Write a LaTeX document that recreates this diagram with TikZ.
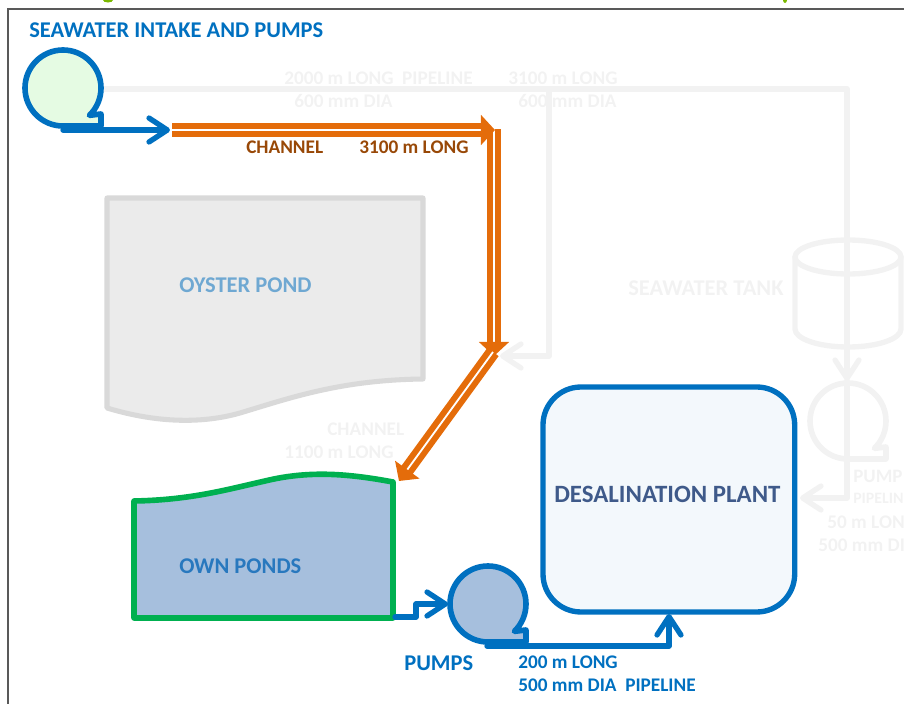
\documentclass[tikz,border=0pt]{standalone}
\usepackage{xcolor}
\usepackage{fontspec}
\setmainfont{Carlito}
\usetikzlibrary{arrows.meta}
\definecolor{pipeblue}{HTML}{0070C0}
\definecolor{chanorange}{HTML}{E46C0A}
\definecolor{chanbrown}{HTML}{984807}
\definecolor{ghost}{HTML}{F2F2F2}
\definecolor{pondgreen}{HTML}{00B050}
\definecolor{pondblue}{HTML}{A6BFDD}
\definecolor{pondtext}{HTML}{2878BE}
\definecolor{oystergrey}{HTML}{EBEBEB}
\definecolor{oysteredge}{HTML}{D9D9D9}
\definecolor{oystertext}{HTML}{6FA8D2}
\definecolor{plantfill}{HTML}{F3F8FC}
\definecolor{planttext}{HTML}{3F5A8A}
\definecolor{intakefill}{HTML}{E5FBE3}
\definecolor{titlegreen}{HTML}{7AB800}
\tikzset{
  lbl/.style={font=\bfseries\fontsize{13.7}{15}\selectfont,inner sep=0pt,anchor=west},
  biglbl/.style={lbl,font=\bfseries\fontsize{16}{18}\selectfont},
  bluepipe/.style={draw=pipeblue,line width=3.8pt,line join=round,line cap=round},
  ghostpipe/.style={draw=ghost,line width=3.8pt,line join=round,line cap=round},
  pipearrow/.style={-{Straight Barb[length=13pt,width=17pt,line width=3.8pt,round]}},
  channel/.style={draw=chanorange,line width=4.3pt,double=white,double distance=1.3pt,
    -{Triangle[length=10pt,width=21pt]}},
  pumpbody/.style={line width=4pt,line join=round}
}
\begin{document}
\begin{tikzpicture}[x=0.025cm,y=-0.025cm]
\useasboundingbox (0,0) rectangle (904,704);
\draw[color=black!65,line width=0.9pt] (8,704)--(8,9)--(904,9);
\fill[titlegreen] (108,0) ellipse (5 and 2.5);
\fill[titlegreen] (785,0) ellipse (2 and 3);

% faded parts
\coordinate (intakeOut) at (103,89);
\coordinate (pipeCorner) at (847,89);
\coordinate (branchTop) at (549,89);
\coordinate (branchLow) at (549,356);
\coordinate (branchEnd) at (500,356);
\coordinate (pumpTop) at (847,381);
\coordinate (pipeLow) at (847,498);
\coordinate (plantEnd) at (800,498);
\draw[ghostpipe] (intakeOut)--(pipeCorner);
\draw[ghostpipe,pipearrow] (pipeCorner)--(pumpTop);
\draw[ghostpipe] (branchTop)--(branchLow);
\draw[ghostpipe,pipearrow] (branchLow)--(branchEnd);
\draw[ghostpipe] (pumpTop)--(pipeLow);
\draw[ghostpipe,pipearrow] (pipeLow)--(plantEnd);
% tank
\draw[ghostpipe] (848,257) ellipse (53 and 17);
\draw[ghostpipe] (795,257)--(795,329) arc (180:0:53 and 18)--(901,257);
\draw[pumpbody,draw=ghost] (848,459) arc (90:406:38)--(886,447)--(886,459)--cycle;
\node[lbl,text=ghost] (lblA) at (284,78) {2000 m LONG\ \ PIPELINE};
\node[lbl,text=ghost] (lblB) at (294,101) {600 mm DIA};
\node[lbl,text=ghost] (lblC) at (508,78) {3100 m LONG};
\node[lbl,text=ghost] (lblD) at (518,101) {600 mm DIA};
\node[biglbl,text=ghost] (lblTank) at (628,288) {SEAWATER TANK};
\node[lbl,text=ghost] (lblE) at (327,429) {CHANNEL};
\node[lbl,text=ghost] (lblF) at (284,452) {1100 m LONG};
\node[lbl,text=ghost,font=\bfseries\fontsize{13.5}{15}\selectfont] (lblG) at (853,476) {PUMP};
\node[lbl,text=ghost,font=\bfseries\fontsize{11.3}{13}\selectfont] (lblH) at (853,498) {PIPELIN};
\node[lbl,text=ghost] (lblI) at (827,522) {50 m LON};
\node[lbl,text=ghost] (lblJ) at (818,545) {500 mm DI};

% oyster pond
\path[fill=oystergrey,draw=oysteredge,line width=3.6pt,line join=round]
  (107,198)--(423,198)--(423,379)
  .. controls (340,380) and (290,398) .. (240,413)
  .. controls (205,423) and (160,424) .. (107,408)--cycle;
\node[biglbl,text=oystertext] (oyster) at (179,285) {OYSTER POND};

% own ponds
\path[fill=pondblue,draw=pondgreen,line width=4pt,line join=round]
  (134,501) .. controls (190,500) and (225,490) .. (265,481)
  .. controls (310,470) and (350,474) .. (393,482)--(393,618)--(134,618)--cycle;
\node[biglbl,text=pondtext] (own) at (179,566) {OWN PONDS};

% plant
\node[draw=pipeblue,fill=plantfill,line width=3.8pt,rounded corners=27pt,
  minimum width=179pt,minimum height=160pt,anchor=north west,inner sep=0pt,outer sep=0pt] (plant) at (543,387) {};
\node[lbl,text=planttext,font=\bfseries\fontsize{17.7}{20}\selectfont] (plantLbl) at (554,494) {DESALINATION PLANT};

% channels
\coordinate (chanA) at (172,130);
\coordinate (chanB) at (495,130);
\coordinate (chanC) at (494,356);
\coordinate (chanD) at (399,481);
\coordinate (chanS) at (494,129);
\coordinate (chanT) at (493,352);
\draw[channel] (chanS)--(chanC);
\draw[channel] (chanA)--(chanB);
\draw[channel] (chanT)--(chanD);
\node[lbl,text=chanbrown] (chanL) at (246,147) {CHANNEL};
\node[lbl,text=chanbrown] (chanR) at (359,147) {3100 m LONG};

% intake
\draw[pumpbody,draw=pipeblue,fill=intakefill] (63,126) arc (90:406:38)--(101,114)--(101,126)--cycle;
\node[biglbl,text=pipeblue] (title) at (29,30) {SEAWATER INTAKE AND PUMPS};
\coordinate (intakeFoot) at (63,130);
\coordinate (intakeTip) at (170,130);
\draw[bluepipe,pipearrow] (intakeFoot)--(intakeTip);

% pumps
\coordinate (pondOut) at (395,617);
\coordinate (stepA) at (416,617);
\coordinate (stepB) at (416,604);
\coordinate (pumpIn) at (448,604);
\draw[bluepipe,pipearrow] (pondOut)--(stepA)--(stepB)--(pumpIn);
\draw[pumpbody,draw=pipeblue,fill=pondblue] (488,642) arc (90:406:38)--(526,630)--(526,642)--cycle;
\coordinate (pumpFoot) at (487,646);
\coordinate (pipeTurn) at (669,646);
\coordinate (plantIn) at (669,614);
\draw[bluepipe,pipearrow] (pumpFoot)--(pipeTurn)--(plantIn);
\node[biglbl,text=pipeblue] (pumpsLbl) at (404,663) {PUMPS};
\node[lbl,text=pipeblue] (pipeL1) at (518,662) {200 m LONG};
\node[lbl,text=pipeblue] (pipeL2) at (518,685) {500 mm DIA\ \ PIPELINE};
\end{tikzpicture}
\end{document}
